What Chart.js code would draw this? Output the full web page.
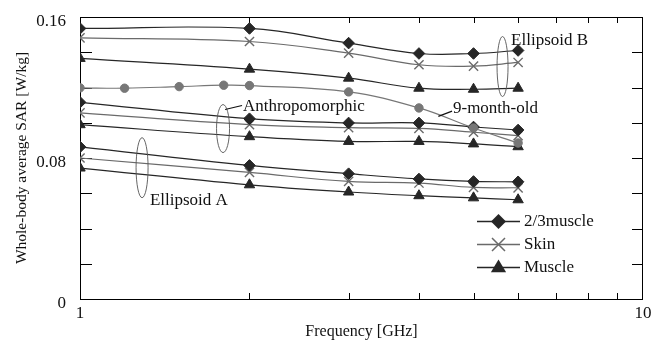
<!DOCTYPE html>
<html><head><meta charset="utf-8">
<script src="https://cdn.jsdelivr.net/npm/chart.js@4/dist/chart.umd.min.js"></script>
<style>html,body{margin:0;padding:0;background:#fff}#wrap{width:651px;height:345px}</style>
</head><body><div id="wrap"><canvas id="c" width="651" height="345"></canvas></div>
<script>
// ---- data (GHz, W/kg) ----
const freqs = [1, 2, 3, 4, 5, 6];
const freqs9m = [1, 1.2, 1.5, 1.8, 2, 3, 4, 5, 6];
const ellB_23muscle = [0.1535, 0.1535, 0.1452, 0.1393, 0.1393, 0.1410];
const ellB_skin     = [0.1482, 0.1461, 0.1395, 0.1329, 0.1321, 0.1342];
const ellB_muscle   = [0.1365, 0.1304, 0.1253, 0.1196, 0.1190, 0.1196];
const nineMonth     = [0.1198, 0.1196, 0.1205, 0.1213, 0.1211, 0.1175, 0.1084, 0.0970, 0.0885];
const anth_23muscle = [0.1116, 0.1023, 0.0999, 0.0999, 0.0976, 0.0959];
const anth_skin     = [0.1056, 0.0989, 0.0972, 0.0968, 0.0946, 0.0927];
const anth_muscle   = [0.0989, 0.0921, 0.0894, 0.0894, 0.0880, 0.0864];
const ellA_23muscle = [0.0863, 0.0758, 0.0711, 0.0681, 0.0667, 0.0665];
const ellA_skin     = [0.0800, 0.0718, 0.0667, 0.0658, 0.0633, 0.0631];
const ellA_muscle   = [0.0743, 0.0648, 0.0607, 0.0586, 0.0574, 0.0563];
const xTickValues = [1, 2, 3, 4, 5, 6, 7, 8, 9, 10];
const xTickLabels = {1: '1', 10: '10'};
const yTickLabels = {0: '0', 8: '0.08', 16: '0.16'};
const legendLabels = ['2/3muscle', 'Skin', 'Muscle'];
// annotations in data coordinates
const ellipses = [
  {f: 5.63, v: 0.1319, rx: 5.5, ry: 30},
  {f: 1.795, v: 0.0967, rx: 6.5, ry: 24},
  {f: 1.289, v: 0.0745, rx: 6, ry: 30}
];
const labels = [
  {text: 'Ellipsoid B', f: 5.83, v: 0.1469},
  {text: 'Anthropomorphic', f: 1.947, v: 0.1092},
  {text: '9-month-old', f: 4.597, v: 0.1080},
  {text: 'Ellipsoid A', f: 1.331, v: 0.0559}
];
const leaders = [
  {f1: 1.81, v1: 0.1075, f2: 1.94, v2: 0.1098},
  {f1: 4.33, v1: 0.1036, f2: 4.58, v2: 0.1066}
];

const FONT = '"Liberation Serif", "Times New Roman", serif';
const DARK = '#262626', GRAY = '#6a6a6a';
const pts = (xs, ys) => xs.map((x, i) => ({x, y: ys[i]}));
const styles = {
  d: {pointStyle: 'rectRot', pointRadius: 5.8, borderColor: DARK, pointBackgroundColor: DARK, pointBorderColor: DARK},
  s: {pointStyle: 'crossRot', pointRadius: 6.5, borderColor: GRAY, pointBackgroundColor: GRAY, pointBorderColor: GRAY, pointBorderWidth: 1.4},
  m: {pointStyle: 'triangle', pointRadius: 6, borderColor: DARK, pointBackgroundColor: DARK, pointBorderColor: DARK}
};
function ds(label, xs, ys, st) {
  return Object.assign({label, data: pts(xs, ys), borderWidth: 1.2, tension: 0.4, fill: false, pointBorderWidth: 1}, st);
}
const datasets = [
  ds('B 2/3muscle', freqs, ellB_23muscle, styles.d),
  ds('B Skin', freqs, ellB_skin, styles.s),
  ds('B Muscle', freqs, ellB_muscle, styles.m),
  ds('9-month-old', freqs9m, nineMonth, {pointStyle: 'circle', pointRadius: 4.2, borderColor: '#777', pointBackgroundColor: '#777', pointBorderColor: '#777'}),
  ds('A 2/3muscle', freqs, anth_23muscle, styles.d),
  ds('A Skin', freqs, anth_skin, styles.s),
  ds('A Muscle', freqs, anth_muscle, styles.m),
  ds('E 2/3muscle', freqs, ellA_23muscle, styles.d),
  ds('E Skin', freqs, ellA_skin, styles.s),
  ds('E Muscle', freqs, ellA_muscle, styles.m)
];

const deco = {
  id: 'deco',
  beforeDatasetsDraw(chart) {
    const {ctx, chartArea: a, scales: {x, y}} = chart;
    ctx.save();
    ctx.strokeStyle = '#000';
    ctx.lineWidth = 1;
    ctx.strokeRect(a.left + 0.5, a.top + 0.5, a.right - a.left - 1, a.bottom - a.top);
    ctx.beginPath();
    for (let k = 1; k < 8; k++) {
      const py = Math.round(y.getPixelForValue(k * 0.02)) + 0.5;
      ctx.moveTo(a.left, py); ctx.lineTo(a.left + 12, py);
      ctx.moveTo(a.right - 11, py); ctx.lineTo(a.right, py);
    }
    for (let f = 2; f <= 9; f++) {
      const px = Math.round(x.getPixelForValue(f)) + 0.5;
      ctx.moveTo(px, a.bottom); ctx.lineTo(px, a.bottom - 6);
      ctx.moveTo(px, a.top); ctx.lineTo(px, a.top + 6);
    }
    ctx.stroke();
    ctx.restore();
  },
  afterDatasetsDraw(chart) {
    const {ctx, scales: {x, y}} = chart;
    ctx.save();
    ctx.strokeStyle = '#555';
    ctx.lineWidth = 0.9;
    ellipses.forEach(e => {
      ctx.beginPath();
      ctx.ellipse(x.getPixelForValue(e.f), y.getPixelForValue(e.v), e.rx, e.ry, 0, 0, Math.PI * 2);
      ctx.stroke();
    });
    ctx.strokeStyle = '#111';
    ctx.lineWidth = 1.2;
    leaders.forEach(l => {
      ctx.beginPath();
      ctx.moveTo(x.getPixelForValue(l.f1), y.getPixelForValue(l.v1));
      ctx.lineTo(x.getPixelForValue(l.f2), y.getPixelForValue(l.v2));
      ctx.stroke();
    });
    ctx.fillStyle = '#111';
    ctx.font = '17px ' + FONT;
    ctx.textBaseline = 'middle';
    ctx.textAlign = 'left';
    labels.forEach(l => ctx.fillText(l.text, x.getPixelForValue(l.f), y.getPixelForValue(l.v)));
    // legend
    const rows = [221.5, 244.5, 267.5];
    const lx1 = 477, lx2 = 520, mx = 498.5;
    rows.forEach((ry, i) => {
      ctx.strokeStyle = i === 1 ? GRAY : DARK;
      ctx.lineWidth = 1.6;
      ctx.beginPath(); ctx.moveTo(lx1, ry); ctx.lineTo(lx2, ry); ctx.stroke();
      ctx.fillStyle = DARK;
      ctx.beginPath();
      if (i === 0) {
        const r = 7.5;
        ctx.moveTo(mx, ry - r); ctx.lineTo(mx + r, ry); ctx.lineTo(mx, ry + r); ctx.lineTo(mx - r, ry); ctx.closePath(); ctx.fill();
      } else if (i === 1) {
        const r = 6.5;
        ctx.strokeStyle = GRAY; ctx.lineWidth = 1.5;
        ctx.moveTo(mx - r, ry - r); ctx.lineTo(mx + r, ry + r);
        ctx.moveTo(mx + r, ry - r); ctx.lineTo(mx - r, ry + r); ctx.stroke();
      } else {
        const r = 8;
        ctx.moveTo(mx, ry - r); ctx.lineTo(mx + r * 0.95, ry + r * 0.6); ctx.lineTo(mx - r * 0.95, ry + r * 0.6); ctx.closePath(); ctx.fill();
      }
      ctx.fillStyle = '#111';
      ctx.fillText(legendLabels[i], 524, ry);
    });
    ctx.restore();
  }
};

new Chart(document.getElementById('c'), {
  type: 'line',
  data: {datasets},
  options: {
    responsive: false,
    animation: false,
    devicePixelRatio: 1,
    layout: {padding: {top: 17, right: 0, left: 0, bottom: 0}},
    plugins: {legend: {display: false}, tooltip: {enabled: false}},
    scales: {
      x: {
        type: 'logarithmic', min: 1, max: 10,
        afterBuildTicks: s => { s.ticks = xTickValues.map(v => ({value: v})); },
        afterFit: s => { s.height = 46; s.paddingRight = 8; s.paddingLeft = 0; },
        grid: {display: false, drawTicks: false},
        border: {display: false},
        ticks: {autoSkip: false, maxRotation: 0, padding: 4, color: '#111', font: {family: FONT, size: 17},
          callback: v => xTickLabels[v] || ''},
        title: {display: true, text: 'Frequency [GHz]', color: '#111', font: {family: FONT, size: 16}, padding: {top: 0, bottom: 4}}
      },
      y: {
        min: 0, max: 0.16,
        afterFit: s => { s.width = 80; s.paddingTop = 0; s.paddingBottom = 0; },
        grid: {display: false, drawTicks: false},
        border: {display: false},
        ticks: {stepSize: 0.02, padding: 14, labelOffset: 5, color: '#111', font: {family: FONT, size: 17},
          callback: v => yTickLabels[Math.round(v * 100)] || ''},
        title: {display: true, text: 'Whole-body average SAR [W/kg]', color: '#111', font: {family: FONT, size: 15.5}, padding: {top: 13, bottom: 0}}
      }
    }
  },
  plugins: [deco]
});
</script></body></html>
